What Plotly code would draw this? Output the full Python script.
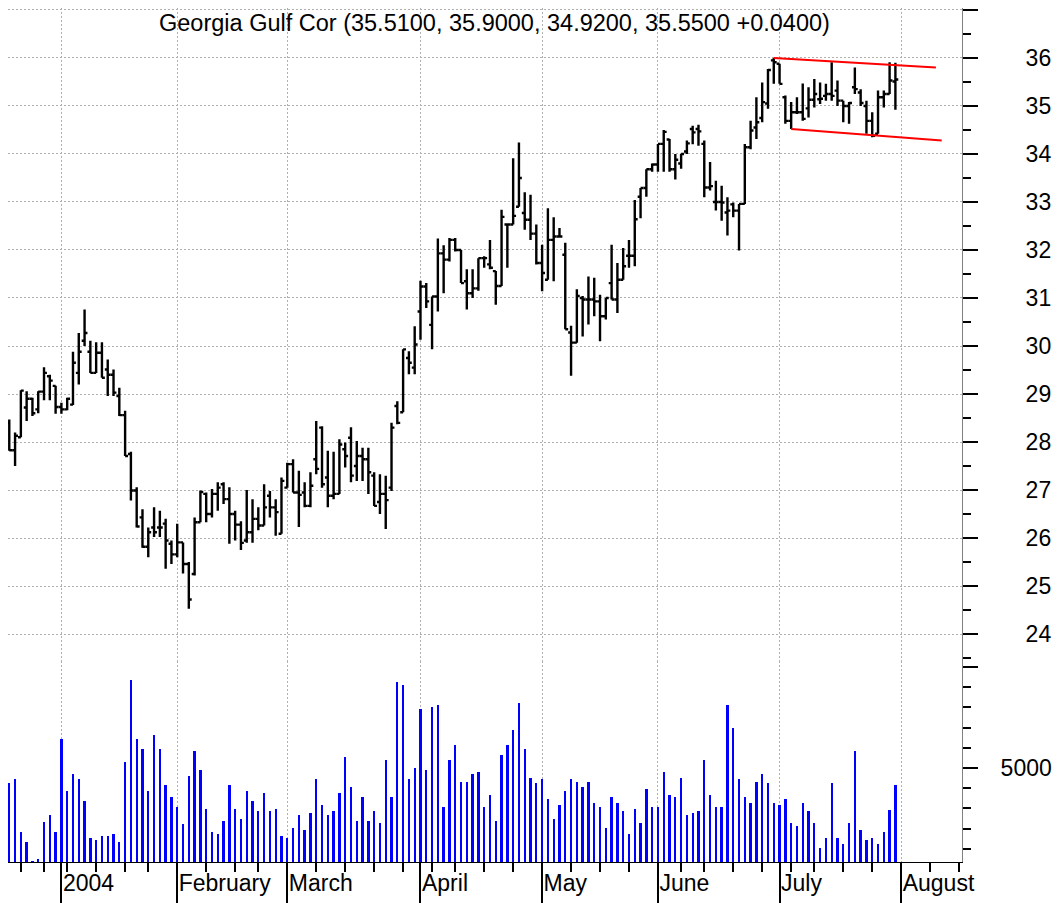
import pandas as pd
import plotly.graph_objects as go

# ---------------- data ----------------
holidays = ["2003-12-25", "2004-01-01", "2004-01-19", "2004-02-16",
            "2004-04-09", "2004-05-31", "2004-06-11", "2004-07-05"]
calendar = [d for d in pd.bdate_range("2003-12-18", "2004-08-20")
            if d.strftime("%Y-%m-%d") not in holidays]

opens = [28.40, 27.83, 28.10, 28.72, 28.90, 28.68, 29.05, 29.37, 29.17, 28.73,
         28.68, 28.78, 29.44, 30.11, 29.88, 29.44, 29.86, 29.51, 29.40, 28.96,
         28.56, 27.75, 26.99, 26.43, 25.82, 26.22, 26.22, 26.30, 25.88, 25.66,
         25.91, 25.46, 25.25, 26.33, 26.92, 26.50, 26.92, 27.12, 26.81, 26.50,
         26.28, 25.95, 26.12, 26.40, 26.26, 26.88, 26.64, 26.09, 27.05, 27.54,
         26.95, 26.95, 26.67, 27.64, 28.30, 27.26, 26.88, 26.92, 27.85, 28.09,
         27.50, 27.71, 27.64, 27.30, 26.75, 26.92, 27.05, 28.75, 28.62, 29.75,
         29.55, 30.72, 31.24, 30.44, 31.03, 31.93, 31.80, 32.21, 32.00, 31.35,
         31.10, 31.20, 31.83, 31.70, 31.56, 31.25, 32.53, 32.53, 32.90, 32.77,
         32.63, 32.34, 31.73, 31.38, 32.21, 32.28, 31.90, 30.28, 30.07, 31.00,
         30.97, 30.97, 30.93, 30.62, 31.31, 30.97, 31.38, 31.88, 31.88, 33.11,
         33.29, 33.68, 33.78, 34.21, 34.30, 33.68, 33.80, 34.05, 34.52, 34.52,
         34.21, 33.30, 33.00, 33.00, 32.78, 32.95, 32.82, 32.96, 34.14, 34.55,
         34.75, 35.05, 35.95, 35.88, 35.18, 34.69, 34.87, 34.87, 34.95, 35.13,
         35.14, 35.21, 35.25, 35.32, 35.11, 35.00, 35.39, 35.28, 35.00, 34.69,
         34.42, 35.18, 35.25, 35.51]
highs = [28.47, 28.20, 29.08, 29.06, 28.92, 29.06, 29.56, 29.40, 29.17, 28.82,
         28.92, 29.88, 30.27, 30.76, 30.11, 30.08, 30.08, 29.72, 29.51, 29.13,
         28.65, 27.80, 27.06, 26.60, 26.22, 26.64, 26.57, 26.40, 25.95, 26.30,
         25.91, 25.50, 26.43, 26.99, 26.95, 27.02, 27.16, 27.16, 27.06, 26.57,
         26.35, 27.00, 26.81, 26.64, 27.12, 26.98, 26.81, 27.26, 27.57, 27.64,
         27.40, 27.16, 27.37, 28.44, 28.33, 27.82, 27.80, 28.06, 27.99, 28.31,
         28.02, 27.88, 27.88, 27.37, 27.33, 27.30, 28.40, 28.85, 29.93, 29.89,
         30.41, 31.36, 31.31, 31.03, 32.24, 32.10, 32.25, 32.25, 32.00, 31.60,
         31.60, 31.83, 31.87, 32.21, 31.56, 32.84, 32.53, 33.91, 34.24, 33.20,
         33.15, 32.53, 32.11, 32.87, 32.68, 32.46, 32.15, 30.42, 31.18, 31.04,
         31.45, 31.42, 31.07, 31.00, 32.11, 31.73, 32.04, 32.21, 33.04, 33.29,
         33.68, 33.80, 34.21, 34.50, 34.31, 34.00, 34.00, 34.28, 34.59, 34.61,
         34.28, 33.83, 33.44, 33.34, 33.10, 32.99, 32.96, 34.21, 34.69, 35.18,
         35.49, 35.77, 36.00, 35.88, 35.22, 35.08, 35.18, 35.47, 35.39, 35.56,
         35.49, 35.46, 35.91, 35.53, 35.11, 35.08, 35.80, 35.35, 35.11, 34.87,
         35.32, 35.32, 35.91, 35.90]
lows = [27.82, 27.50, 28.10, 28.44, 28.54, 28.60, 28.87, 28.87, 28.59, 28.59,
        28.66, 28.77, 29.20, 30.00, 29.44, 29.44, 29.34, 28.96, 28.96, 28.54,
        27.71, 26.78, 26.22, 25.80, 25.60, 26.02, 26.02, 25.36, 25.46, 25.60,
        25.26, 24.53, 25.22, 26.33, 26.33, 26.43, 26.57, 26.71, 25.88, 25.95,
        25.75, 25.90, 25.90, 26.16, 26.26, 26.43, 26.05, 26.09, 27.05, 26.95,
        26.23, 26.64, 26.64, 27.33, 27.05, 26.64, 26.81, 26.92, 27.47, 27.16,
        27.19, 27.19, 26.92, 26.67, 26.50, 26.19, 26.98, 28.37, 28.62, 29.41,
        29.41, 30.13, 30.79, 29.93, 30.72, 31.10, 31.76, 31.97, 31.31, 30.76,
        31.00, 31.15, 31.63, 31.60, 30.86, 31.25, 31.63, 32.53, 32.90, 32.42,
        32.21, 31.70, 31.14, 31.38, 31.35, 32.28, 30.35, 29.38, 30.07, 30.20,
        30.45, 30.62, 30.10, 30.55, 30.97, 30.69, 31.38, 31.63, 31.66, 32.66,
        33.11, 33.63, 33.63, 33.63, 33.63, 33.47, 33.69, 34.00, 34.20, 34.17,
        33.10, 33.24, 32.82, 32.61, 32.30, 32.68, 31.99, 32.96, 34.10, 34.31,
        34.66, 34.94, 35.46, 35.46, 34.63, 34.52, 34.83, 34.69, 34.76, 34.97,
        35.04, 35.11, 35.11, 35.00, 34.66, 34.63, 35.25, 35.00, 34.42, 34.35,
        34.42, 34.97, 35.25, 34.92]
closes = [27.83, 28.13, 29.07, 28.90, 28.60, 29.05, 29.44, 29.28, 28.73, 28.68,
          28.90, 29.65, 29.88, 30.27, 29.44, 29.86, 29.34, 29.40, 29.03, 28.56,
          27.71, 26.99, 26.24, 25.82, 26.12, 26.12, 26.22, 25.95, 25.66, 25.91,
          25.46, 24.72, 26.33, 26.96, 26.50, 26.92, 27.05, 26.81, 26.50, 26.28,
          25.90, 26.12, 26.40, 26.26, 26.64, 26.64, 26.54, 27.19, 27.54, 26.95,
          26.90, 26.67, 27.09, 27.44, 27.12, 26.88, 26.92, 27.95, 27.71, 27.30,
          27.71, 27.64, 27.37, 26.67, 26.92, 26.79, 28.30, 28.40, 29.93, 29.65,
          30.03, 31.24, 30.93, 31.03, 31.93, 31.80, 32.21, 32.00, 31.31, 31.10,
          31.20, 31.83, 31.83, 31.63, 31.25, 32.69, 32.53, 32.71, 33.50, 32.63,
          32.34, 31.73, 31.52, 32.21, 32.28, 32.28, 30.35, 30.07, 31.04, 30.97,
          30.97, 30.93, 30.62, 31.00, 30.97, 31.38, 31.66, 31.88, 32.64, 33.29,
          33.68, 33.78, 34.21, 34.46, 33.68, 33.88, 34.00, 34.22, 34.45, 34.47,
          33.30, 33.33, 33.00, 32.99, 32.82, 32.82, 32.96, 34.14, 34.49, 34.66,
          35.08, 35.75, 35.91, 35.46, 34.69, 34.87, 34.87, 34.73, 35.13, 35.25,
          35.15, 35.25, 35.21, 35.11, 35.00, 35.06, 35.35, 35.06, 34.69, 34.38,
          35.18, 35.25, 35.53, 35.55]
volumes = [4241, 4440, 1817, 1352, 396, 495, 2311, 2690, 1817, 6436,
           3862, 4719, 4440, 3383, 1535, 1436, 1634, 1634, 1733, 1352,
           5281, 9356, 6436, 5957, 3862, 6617, 5957, 4142, 3581, 3070,
           2212, 4620, 5858, 4901, 2970, 1817, 1733, 2393, 4142, 2970,
           2492, 3862, 3383, 2872, 3763, 2872, 2970, 1634, 1535, 2014,
           2690, 1931, 2789, 4440, 3152, 2690, 2872, 3763, 5561, 4043,
           2393, 3581, 2393, 2872, 2294, 5380, 3581, 9257, 9092, 4440,
           4983, 7920, 4901, 8020, 8118, 3070, 5380, 6138, 4324, 4324,
           4703, 4802, 3070, 3664, 2393, 5660, 6138, 6898, 8218, 5957,
           4522, 4241, 4440, 3482, 2492, 3152, 3862, 4440, 4324, 4043,
           4324, 3284, 3070, 2014, 3581, 3284, 2872, 1733, 2970, 2294,
           3944, 3070, 3070, 4802, 3664, 3581, 4522, 2674, 2773, 2872,
           5380, 3664, 3070, 3070, 8135, 6997, 4440, 3581, 3284, 4324,
           4703, 4241, 3284, 3152, 3482, 2294, 2113, 3284, 2872, 2294,
           1055, 1535, 4241, 1535, 1253, 2294, 5858, 1931, 1436, 1535,
           1253, 1817, 2921, 4142]

# channel trend lines (trading-day index, price)
upper_trend_x = [132, 160]
upper_trend_y = [36.00, 35.80]
lower_trend_x = [135, 161]
lower_trend_y = [34.52, 34.28]

month_names = {1: "2004", 2: "February", 3: "March", 4: "April", 5: "May",
               6: "June", 7: "July", 8: "August"}
title_text = "Georgia Gulf Cor (35.5100, 35.9000, 34.9200, 35.5500 +0.0400)"

price_ticks = list(range(24, 38))
price_ticktext = [str(v) if v <= 36 else "" for v in price_ticks]
vol_ticks = [5000, 10000]
vol_ticktext = ["5000", ""]

# ---------------- derived axis positions ----------------
n = len(closes)
xs = list(range(n))
month_idx, month_lbl, week_idx = [], [], []
for i in range(1, len(calendar)):
    if calendar[i].month != calendar[i - 1].month:
        month_idx.append(i)
        month_lbl.append(month_names[calendar[i].month])
    elif calendar[i].weekday() < calendar[i - 1].weekday():
        week_idx.append(i)

xrange = [-0.22, 164.5]
FONT = "Liberation Sans, Arial, Helvetica, sans-serif"
GRID = "#b0b0b0"
GDASH = "2px,2px"
split = 0.2354

fig = go.Figure()
fig.add_trace(go.Ohlc(x=xs, open=opens, high=highs, low=lows, close=closes,
                      increasing_line_color="black", decreasing_line_color="black",
                      line_width=2.4, tickwidth=0.5, xaxis="x", yaxis="y",
                      showlegend=False, hoverinfo="skip"))
fig.add_trace(go.Scatter(x=upper_trend_x, y=upper_trend_y, mode="lines",
                         line=dict(color="#ff0000", width=2), xaxis="x", yaxis="y",
                         showlegend=False, hoverinfo="skip"))
fig.add_trace(go.Scatter(x=lower_trend_x, y=lower_trend_y, mode="lines",
                         line=dict(color="#ff0000", width=2), xaxis="x", yaxis="y",
                         showlegend=False, hoverinfo="skip"))
fig.add_trace(go.Bar(x=xs, y=volumes, width=0.4, marker_color="#0000ff",
                     marker_line_width=0, xaxis="x2", yaxis="y2",
                     showlegend=False, hoverinfo="skip"))
# invisible trace to carry the long month ticks axis
fig.add_trace(go.Scatter(x=[xrange[0]], y=[400], mode="markers", marker_opacity=0,
                         xaxis="x3", yaxis="y2", showlegend=False, hoverinfo="skip"))

fig.update_layout(
    width=1053, height=895,
    margin=dict(l=0, r=99, t=0, b=41),
    paper_bgcolor="white", plot_bgcolor="white",
    font=dict(family=FONT, size=23, color="black"),
    showlegend=False,
    bargap=0,
    xaxis=dict(domain=[0, 1], anchor="y", range=xrange, matches="x2",
               tickvals=month_idx, showticklabels=False, ticks="",
               showgrid=True, gridcolor=GRID, griddash=GDASH, gridwidth=1,
               zeroline=False, showline=False,
               rangeslider=dict(visible=False)),
    xaxis2=dict(domain=[0, 1], anchor="y2", range=xrange,
                tickvals=month_idx, ticktext=month_lbl,
                ticks="outside", ticklen=13, tickwidth=2, tickcolor="black",
                ticklabelposition="outside right",
                tickfont=dict(size=23, family=FONT, color="black"),
                showgrid=True, gridcolor=GRID, griddash=GDASH, gridwidth=1,
                zeroline=False, showline=True, linecolor="black", linewidth=1,
                minor=dict(tickvals=week_idx, ticks="outside", ticklen=9,
                           tickwidth=2, tickcolor="black", showgrid=False)),
    xaxis3=dict(overlaying="x2", anchor="y2", range=xrange,
                tickvals=month_idx, showticklabels=False,
                ticks="outside", ticklen=41, tickwidth=2, tickcolor="black",
                showgrid=False, zeroline=False, showline=False),
    yaxis=dict(domain=[split, 1], anchor="x", side="right",
               range=[23.44, 37.04], tickvals=price_ticks, ticktext=price_ticktext,
               ticks="outside", ticklen=15, tickwidth=2, tickcolor="black",
               ticklabelstandoff=43,
               tickfont=dict(size=23, family=FONT, color="black"),
               showgrid=True, gridcolor=GRID, griddash=GDASH, gridwidth=1,
               zeroline=False, showline=True, linecolor="#808080", linewidth=1,
               minor=dict(tickvals=[v + 0.5 for v in range(23, 37)], ticks="outside",
                          ticklen=8, tickwidth=2, tickcolor="black", showgrid=False)),
    yaxis2=dict(domain=[0, split], anchor="x2", side="right",
                range=[347, 10300], tickvals=vol_ticks, ticktext=vol_ticktext,
                ticks="outside", ticklen=15, tickwidth=2, tickcolor="black",
                ticklabelstandoff=18,
                tickfont=dict(size=23, family=FONT, color="black"),
                showgrid=False, zeroline=False, showline=True,
                linecolor="#808080", linewidth=1,
                minor=dict(tickvals=[v for v in range(1000, 10001, 1000) if v % 5000],
                           ticks="outside", ticklen=8, tickwidth=2,
                           tickcolor="black", showgrid=False)),
    annotations=[dict(text=title_text, xref="paper", yref="paper",
                      x=486 / 954, y=(854 - 15) / 854, xanchor="center", yanchor="middle",
                      showarrow=False, font=dict(size=23.5, family=FONT, color="black"))],
)

fig.write_html("out.html")
